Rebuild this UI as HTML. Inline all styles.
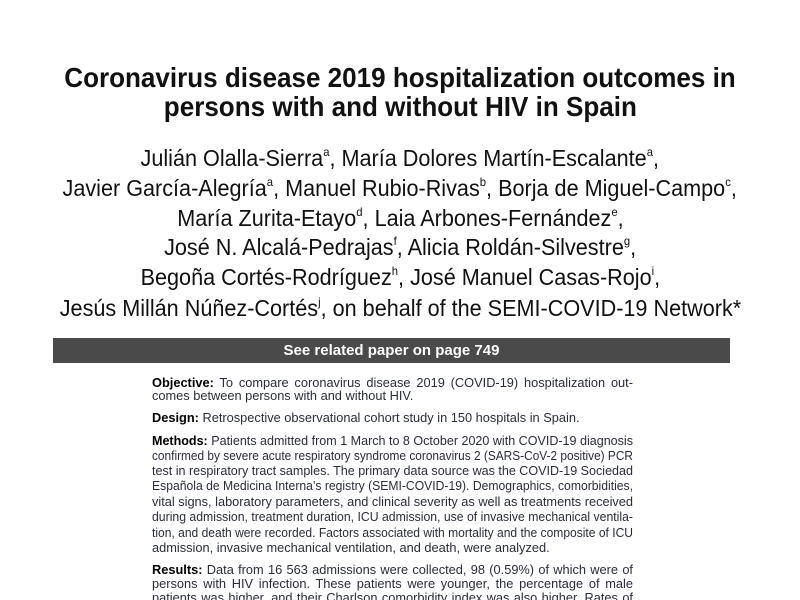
<!DOCTYPE html>
<html><head><meta charset="utf-8"><style>
html,body{margin:0;padding:0;background:#fff;width:800px;height:600px;overflow:hidden;position:relative}
.c{position:absolute;left:0;width:800px;text-align:center;white-space:nowrap;font-family:"Liberation Sans Narrow","Liberation Sans",sans-serif;color:#111}
.c span{display:inline-block}
.t{font-weight:bold;font-size:28px}
.a{font-size:23px}
sup{font-size:12px;vertical-align:10px;line-height:0}
.bar{position:absolute;left:53px;top:338px;width:677px;height:25px;background:#4a4a4a;color:#fff;font-family:"Liberation Sans Narrow","Liberation Sans",sans-serif;font-weight:bold;font-size:15px;text-align:center;line-height:25px}
.l{position:absolute;left:152px;width:481px;font-family:"Liberation Sans",sans-serif;font-size:12.8px;color:#2a2d3a;white-space:nowrap;text-align:justify;text-align-last:justify;line-height:14px}
.l.e{text-align-last:left}
.l b{color:#000}
</style></head><body>
<div class="c t" style="top:62px"><span style="transform:scaleX(0.93)">Coronavirus disease 2019 hospitalization outcomes in</span></div>
<div class="c t" style="top:91px"><span style="transform:scaleX(0.93)">persons with and without HIV in Spain</span></div>
<div class="c a" style="top:145px"><span style="transform:scaleX(0.94)">Julián Olalla-Sierra<sup>a</sup>, María Dolores Martín-Escalante<sup>a</sup>,</span></div>
<div class="c a" style="top:175px"><span style="transform:scaleX(0.94)">Javier García-Alegría<sup>a</sup>, Manuel Rubio-Rivas<sup>b</sup>, Borja de Miguel-Campo<sup>c</sup>,</span></div>
<div class="c a" style="top:205px"><span style="transform:scaleX(0.94)">María Zurita-Etayo<sup>d</sup>, Laia Arbones-Fernández<sup>e</sup>,</span></div>
<div class="c a" style="top:234px"><span style="transform:scaleX(0.94)">José N. Alcalá-Pedrajas<sup>f</sup>, Alicia Roldán-Silvestre<sup>g</sup>,</span></div>
<div class="c a" style="top:264px"><span style="transform:scaleX(0.94)">Begoña Cortés-Rodríguez<sup>h</sup>, José Manuel Casas-Rojo<sup>i</sup>,</span></div>
<div class="c a" style="top:295px"><span style="transform:scaleX(0.94)">Jesús Millán Núñez-Cortés<sup>j</sup>, on behalf of the SEMI-COVID-19 Network*</span></div>
<div class="bar">See related paper on page 749</div>
<div class="l" style="top:376px"><b>Objective:</b> To compare coronavirus disease 2019 (COVID-19) hospitalization out-</div>
<div class="l e" style="top:389px">comes between persons with and without HIV.</div>
<div class="l e" style="top:411px"><b>Design:</b> Retrospective observational cohort study in 150 hospitals in Spain.</div>
<div class="l" style="top:434px"><b>Methods:</b> Patients admitted from 1 March to 8 October 2020 with COVID-19 diagnosis</div>
<div class="l" style="top:449px">confirmed by severe acute respiratory syndrome coronavirus 2 (SARS-CoV-2 positive) PCR</div>
<div class="l" style="top:464px">test in respiratory tract samples. The primary data source was the COVID-19 Sociedad</div>
<div class="l" style="top:479px">Española de Medicina Interna’s registry (SEMI-COVID-19). Demographics, comorbidities,</div>
<div class="l" style="top:495px">vital signs, laboratory parameters, and clinical severity as well as treatments received</div>
<div class="l" style="top:510px">during admission, treatment duration, ICU admission, use of invasive mechanical ventila-</div>
<div class="l" style="top:526px">tion, and death were recorded. Factors associated with mortality and the composite of ICU</div>
<div class="l e" style="top:541px">admission, invasive mechanical ventilation, and death, were analyzed.</div>
<div class="l" style="top:563px"><b>Results:</b> Data from 16 563 admissions were collected, 98 (0.59%) of which were of</div>
<div class="l" style="top:577px">persons with HIV infection. These patients were younger, the percentage of male</div>
<div class="l" style="top:591px">patients was higher, and their Charlson comorbidity index was also higher. Rates of</div>
<script>
document.querySelectorAll('.l').forEach(function(d){
  var s=document.createElement('span');s.style.whiteSpace='nowrap';
  s.innerHTML=d.innerHTML;d.innerHTML='';d.appendChild(s);
  var w=s.getBoundingClientRect().width;
  if(w>481){
    s.style.display='inline-block';s.style.transformOrigin='0 0';
    s.style.transform='scaleX('+(481/w)+')';d.style.textAlignLast='left';d.style.textAlign='left';
  } else {
    d.innerHTML=s.innerHTML;
  }
});
</script>
</body></html>
